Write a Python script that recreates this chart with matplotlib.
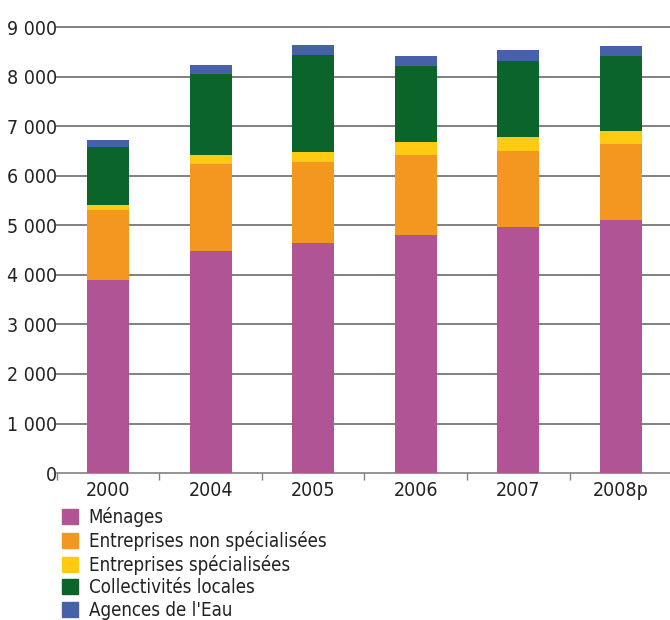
import numpy as np
import matplotlib.pyplot as plt
from matplotlib.patches import Patch

plt.rcParams['font.family'] = ['DejaVu Sans']
plt.rcParams['font.stretch'] = 'condensed'

annees = ['2000', '2004', '2005', '2006', '2007', '2008p']
menages = [3900, 4480, 4645, 4805, 4965, 5105]
entr_non_spec = [1410, 1755, 1630, 1610, 1535, 1535]
entr_spec = [100, 180, 200, 265, 280, 260]
collectivites = [1175, 1635, 1975, 1535, 1535, 1515]
agences = [135, 185, 200, 200, 220, 200]

series = [menages, entr_non_spec, entr_spec, collectivites, agences]
noms = ['Ménages', 'Entreprises non spécialisées', 'Entreprises spécialisées',
        'Collectivités locales', "Agences de l'Eau"]
couleurs = ['#B05495', '#F39720', '#FFCB12', '#0B6429', '#4661A8']

fig = plt.figure(figsize=(6.7, 6.2), dpi=100)
ax = fig.add_axes([0.085, 0.237, 0.918, 0.719])

x = np.arange(len(annees))
bas = np.zeros(len(annees))
for vals, c in zip(series, couleurs):
    ax.bar(x, vals, width=0.41, bottom=bas, color=c, zorder=3)
    bas += np.array(vals)

ax.set_xlim(-0.5, 5.5)
ax.set_ylim(0, 9000)
yt = np.arange(0, 9001, 1000)
ax.set_yticks(yt)
ax.set_yticklabels([f'{v:,}'.replace(',', ' ') for v in yt], fontsize=14, color='#222222')
for v in yt[1:]:
    ax.axhline(v, color='#808080', lw=1.4, zorder=1, clip_on=False)

ax.set_xticks(x)
ax.set_xticklabels(annees, fontsize=14, color='#222222')
ax.set_xticks(np.arange(-0.5, 5.5, 1), minor=True)
ax.tick_params(axis='x', which='major', length=0, pad=6)
ax.tick_params(axis='x', which='minor', length=5, color='#808080', width=1)
ax.tick_params(axis='y', length=0, pad=0)

for s in ['top', 'right', 'left']:
    ax.spines[s].set_visible(False)
ax.spines['bottom'].set_color('#808080')
ax.spines['bottom'].set_linewidth(1.2)

handles = [Patch(color=c) for c in couleurs]
fig.legend(handles, noms, loc='upper left', bbox_to_anchor=(0.081, 0.194),
           frameon=False, fontsize=13.4, handlelength=0.85, handleheight=0.85,
           handletextpad=0.6, labelspacing=0.2, borderaxespad=0,
           labelcolor='#222222')

fig.savefig('out.png', dpi=100)
